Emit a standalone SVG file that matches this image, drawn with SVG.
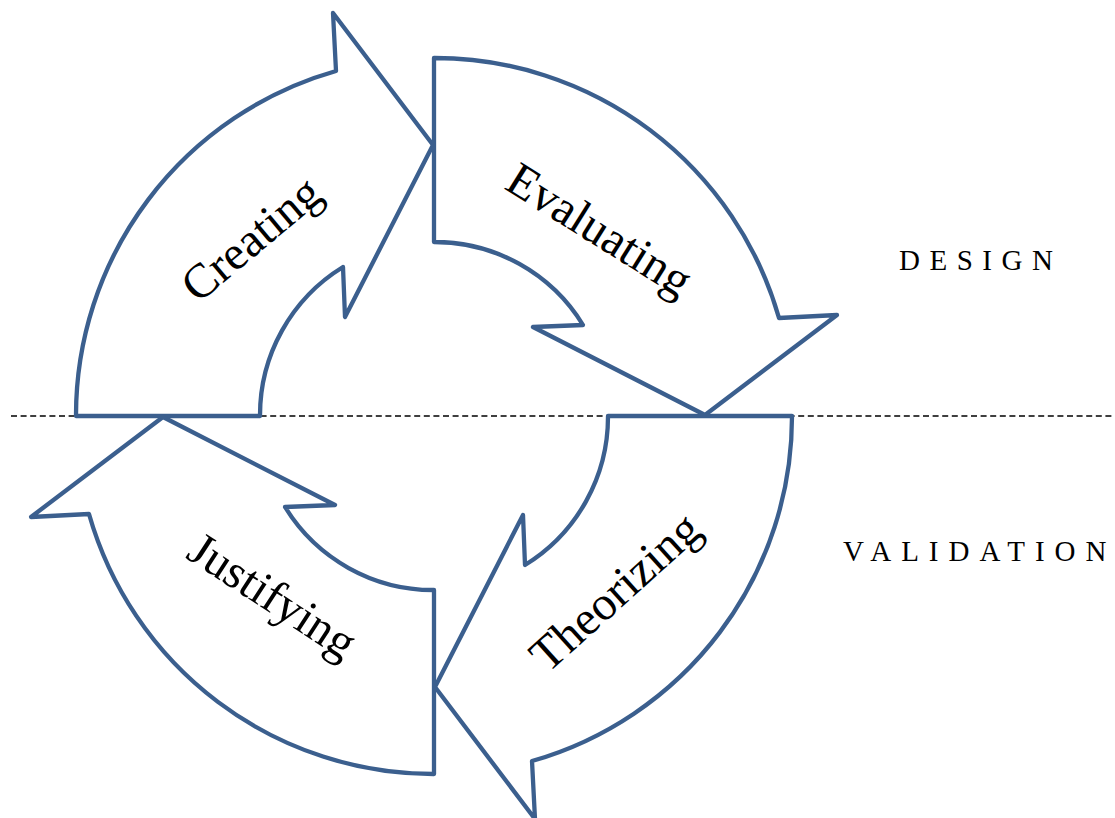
<svg xmlns="http://www.w3.org/2000/svg" xmlns:xlink="http://www.w3.org/1999/xlink" width="1115" height="818" viewBox="0 0 1115 818">
  <style>
    .arrow { fill: #ffffff; stroke: #3B5F8E; stroke-width: 4.3; stroke-linejoin: round; }
    .label { font-family: "Liberation Serif", "Times New Roman", serif; font-size: 48px; fill: #000000; text-anchor: middle; }
    .phase { font-family: "Liberation Serif", "Times New Roman", serif; font-size: 29px; fill: #000000; letter-spacing: 9.5px; }
    .phase .last { letter-spacing: 0; }
    .divider { stroke: #000000; stroke-width: 1.5; stroke-dasharray: 6 3.6; fill: none; }
  </style>
  <defs>
    <!-- One curved arrow of the cycle, centre (434,416); the other three are rotations of it -->
    <path id="cycleArrow" d="M 76 416 A 358 358 0 0 1 336 71 L 333 13 L 433 145 L 345 317 L 343 267 A 174 174 0 0 0 260 416 Z"/>
  </defs>

  <!-- divider between the two phases -->
  <g id="connectors">
    <line class="divider" x1="11" y1="416" x2="1115" y2="416"/>
  </g>

  <g id="creating">
    <use xlink:href="#cycleArrow" href="#cycleArrow" class="arrow"/>
    <text class="label" transform="translate(253 241) rotate(-40)" y="13">Creating</text>
  </g>

  <g id="evaluating">
    <use xlink:href="#cycleArrow" href="#cycleArrow" class="arrow" transform="rotate(90 434 416)"/>
    <text class="label" transform="translate(598 232) rotate(32)" y="13">Evaluating</text>
  </g>

  <g id="theorizing">
    <use xlink:href="#cycleArrow" href="#cycleArrow" class="arrow" transform="rotate(180 434 416)"/>
    <text class="label" transform="translate(617 594) rotate(-42)" y="13">Theorizing</text>
  </g>

  <g id="justifying">
    <use xlink:href="#cycleArrow" href="#cycleArrow" class="arrow" transform="rotate(270 434 416)"/>
    <text class="label" transform="translate(271 598) rotate(33)" y="13">Justifying</text>
  </g>

  <g id="phase-labels">
    <text class="phase" x="899" y="270">DESIG<tspan class="last">N</tspan></text>
    <text class="phase" x="843" y="561" style="letter-spacing:10px">VALIDATIO<tspan class="last">N</tspan></text>
  </g>
</svg>
